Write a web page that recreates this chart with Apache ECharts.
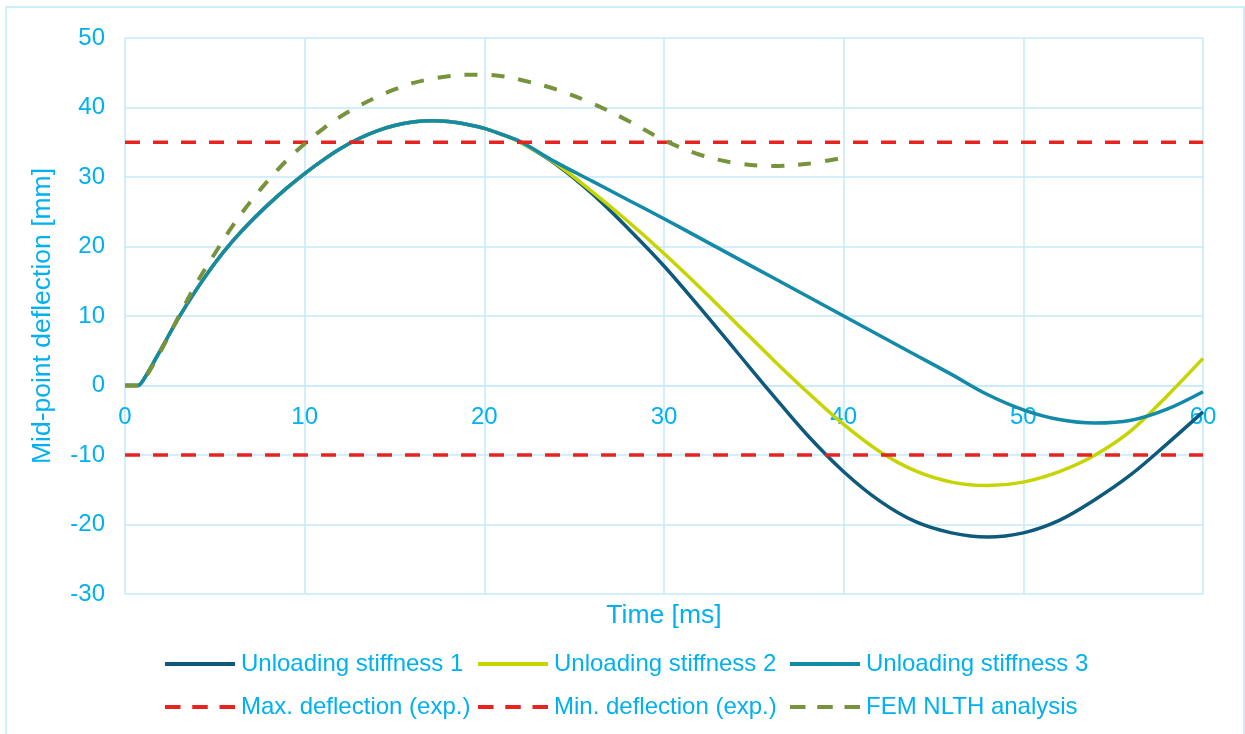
<!DOCTYPE html>
<html>
<head>
<meta charset="utf-8">
<script src="https://cdn.jsdelivr.net/npm/echarts@6/dist/echarts.min.js"></script>
<style>
  html, body { margin: 0; padding: 0; background: #ffffff; }
  #chart { width: 1245px; height: 734px; }
</style>
</head>
<body>
<div id="chart"></div>
<script>
// Time axis samples [ms]
const timeMain = [0, 0.7, 1, 2, 3, 4, 5, 6, 7, 8, 9, 10, 11, 12, 13, 14, 15, 16, 17, 18, 19, 20, 21, 22,
  24, 26, 28, 30, 32, 34, 36, 38, 40, 42, 44, 46, 48, 50, 52, 54, 56, 58, 60];
const timeFem = [0, 0.7, 1, 2, 3, 4, 5, 6, 7, 8, 9, 10, 11, 12, 13, 14, 15, 16, 17, 18, 19, 20, 21, 22,
  24, 26, 28, 30, 32, 34, 36, 38, 40];

// Mid-point deflection [mm]
const stiffness1 = [0, 0, 0.7, 5.2, 9.8, 13.9, 17.6, 20.8, 23.6, 26.1, 28.4, 30.5, 32.4, 34.1, 35.5, 36.6, 37.4, 37.9, 38.1, 38.0, 37.6, 37.0, 36.1, 35.0,
  31.8, 27.6, 22.6, 17.2, 11.2, 5.0, -1.2, -7.2, -12.4, -16.6, -19.6, -21.2, -21.8, -21.2, -19.4, -16.4, -12.8, -8.4, -3.8];
const stiffness2 = [0, 0, 0.7, 5.2, 9.8, 13.9, 17.6, 20.8, 23.6, 26.1, 28.4, 30.5, 32.4, 34.1, 35.5, 36.6, 37.4, 37.9, 38.1, 38.0, 37.6, 37.0, 36.1, 35.0,
  31.9, 27.9, 23.6, 19.0, 14.1, 9.0, 3.9, -1.0, -5.6, -9.5, -12.3, -13.9, -14.4, -13.9, -12.4, -10.0, -6.5, -1.5, 3.9];
const stiffness3 = [0, 0, 0.7, 5.2, 9.8, 13.9, 17.6, 20.8, 23.6, 26.1, 28.4, 30.5, 32.4, 34.1, 35.5, 36.6, 37.4, 37.9, 38.1, 38.0, 37.6, 37.0, 36.1, 35.1,
  32.1, 29.4, 26.7, 24.0, 21.2, 18.4, 15.6, 12.8, 10.0, 7.2, 4.4, 1.6, -1.3, -3.5, -4.9, -5.4, -5.0, -3.4, -0.9];
const femNlth = [0, 0, 0.6, 5, 10, 14.8, 19, 23, 26.5, 29.6, 32.4, 34.8, 36.9, 38.7, 40.2, 41.5, 42.6, 43.5, 44.1, 44.5, 44.7, 44.7, 44.5, 44.0,
  42.6, 40.6, 38.1, 35.3, 33.2, 32.0, 31.6, 31.9, 32.8];

// Experimental limits [mm]
const maxDeflection = 35;
const minDeflection = -10;
const limitSpan = [0, 60];

const seriesNames = ['Unloading stiffness 1', 'Unloading stiffness 2', 'Unloading stiffness 3',
  'Max. deflection (exp.)', 'Min. deflection (exp.)', 'FEM NLTH analysis'];

const textColor = '#00b0f0';
const gridColor = '#c6eafb';
const fontFamily = '"Liberation Sans", Arial, sans-serif';

// Legend keys: a solid bar and a three-dash bar, both 70 x 4
const iconSolid = 'path://M0,0h70v4h-70z';
const iconDashed = 'path://M0,0h15.5v4h-15.5z M27.25,0h15.5v4h-15.5z M54.5,0h15.5v4h-15.5z';

const pairs = (xs, ys) => xs.map((x, i) => [x, ys[i]]);

function lineSeries(name, data, color, width, dash) {
  return {
    name: name,
    type: 'line',
    data: data,
    showSymbol: false,
    symbol: 'none',
    smooth: dash === 'limit' ? false : 0.35,
    lineStyle: {
      color: color,
      width: width,
      type: dash ? (dash === 'limit' ? [15, 13] : [13, 14]) : 'solid',
      cap: 'butt'
    },
    itemStyle: { color: color },
    emphasis: { disabled: true },
    animation: false
  };
}

const series = [
  lineSeries(seriesNames[0], pairs(timeMain, stiffness1), '#0e5a7c', 3.5),
  lineSeries(seriesNames[1], pairs(timeMain, stiffness2), '#c6d400', 3.5),
  lineSeries(seriesNames[2], pairs(timeMain, stiffness3), '#138aa8', 3.5),
  lineSeries(seriesNames[3], limitSpan.map(t => [t, maxDeflection]), '#e8231f', 3.5, 'limit'),
  lineSeries(seriesNames[4], limitSpan.map(t => [t, minDeflection]), '#e8231f', 3.5, 'limit'),
  lineSeries(seriesNames[5], pairs(timeFem, femNlth), '#77933c', 4, 'fem')
];

// Legend laid out as a 3 x 2 grid
const legendCols = [165, 478, 790];
const legendRows = [652, 695];
const legends = seriesNames.map((name, i) => ({
  data: [{ name: name, icon: i < 3 ? iconSolid : iconDashed }],
  left: legendCols[i % 3],
  top: legendRows[Math.floor(i / 3)],
  padding: 0,
  itemWidth: 70,
  itemHeight: 4,
  itemGap: 0,
  selectedMode: false,
  itemStyle: { borderWidth: 0 },
  textStyle: { color: textColor, fontSize: 24, fontFamily: fontFamily, padding: [0, 0, 0, 1] }
}));

const chart = echarts.init(document.getElementById('chart'), null, { renderer: 'canvas' });
chart.setOption({
  backgroundColor: '#ffffff',
  animation: false,
  textStyle: { fontFamily: fontFamily },
  graphic: [{
    type: 'rect',
    shape: { x: 6, y: 7, width: 1238, height: 740 },
    style: { fill: 'none', stroke: '#cdeefc', lineWidth: 2 },
    silent: true,
    z: -10
  }],
  grid: { left: 125, right: 42, top: 38, bottom: 140, containLabel: false, outerBoundsMode: 'none' },
  legend: legends,
  xAxis: {
    type: 'value',
    min: 0,
    max: 60,
    interval: 10,
    // the time axis runs along the zero deflection line
    offset: -208.5,
    name: 'Time [ms]',
    nameLocation: 'middle',
    nameGap: 217,
    nameTextStyle: { color: textColor, fontSize: 26.5, fontFamily: fontFamily },
    axisLine: { show: true, onZero: false, lineStyle: { color: gridColor, width: 1.5 } },
    axisTick: { show: false },
    axisLabel: { color: textColor, fontSize: 24, margin: 20, fontFamily: fontFamily },
    splitLine: { show: true, lineStyle: { color: gridColor, width: 1.5 } }
  },
  yAxis: {
    type: 'value',
    min: -30,
    max: 50,
    interval: 10,
    name: 'Mid-point deflection [mm]',
    nameLocation: 'middle',
    nameGap: 69,
    nameTextStyle: { color: textColor, fontSize: 26.5, fontFamily: fontFamily },
    axisLine: { show: false },
    axisTick: { show: false },
    axisLabel: { color: textColor, fontSize: 24, margin: 20, fontFamily: fontFamily },
    splitLine: { show: true, lineStyle: { color: gridColor, width: 1.5 } }
  },
  series: series
});
</script>
</body>
</html>
